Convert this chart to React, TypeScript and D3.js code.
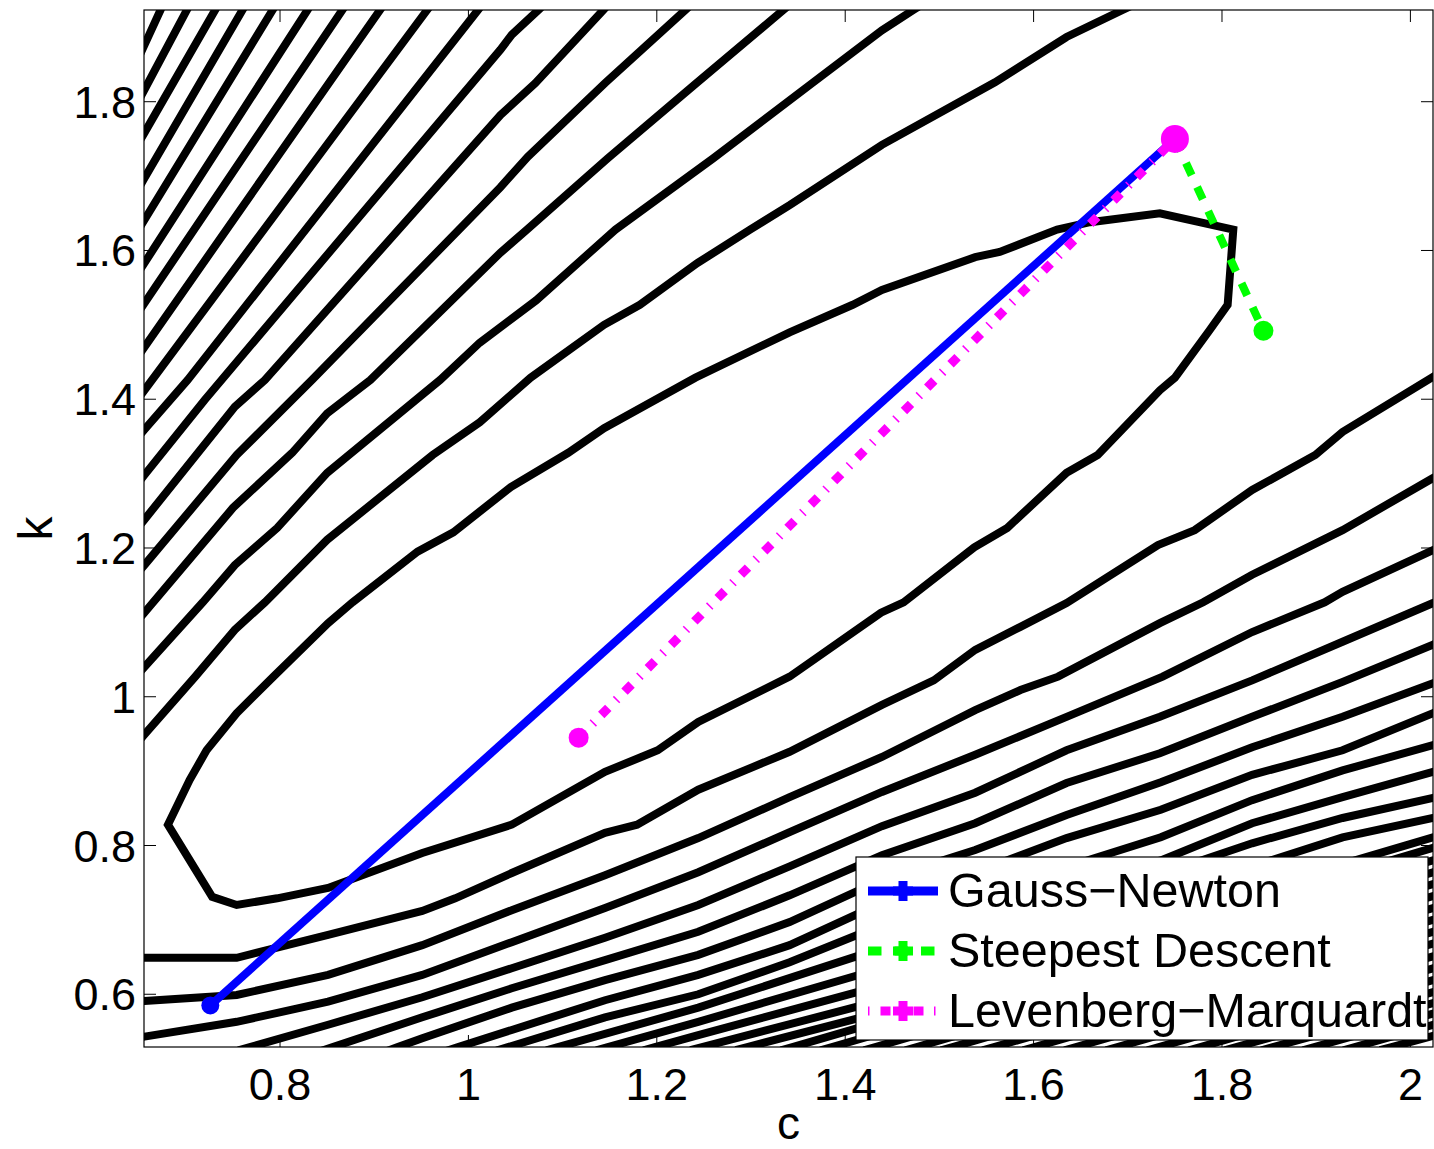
import React from "react";
import * as d3 from "d3";

type Pt = [number, number];

// ---- axes ----
const xDomain: [number, number] = [0.6556, 2.024];
const yDomain: [number, number] = [0.5291, 1.9233];
const xTicks = [0.8, 1, 1.2, 1.4, 1.6, 1.8, 2];
const yTicks = [0.6, 0.8, 1, 1.2, 1.4, 1.6, 1.8];
const xTickLabels = ["0.8", "1", "1.2", "1.4", "1.6", "1.8", "2"];
const yTickLabels = ["0.6", "0.8", "1", "1.2", "1.4", "1.6", "1.8"];
const xLabel = "c";
const yLabel = "k";

// ---- contour lines (c, k) ----
const upperLeftContours: Pt[][] = [
  [[0.673, 1.923], [0.656, 1.876]],
  [[0.701, 1.923], [0.656, 1.816]],
  [[0.731, 1.923], [0.656, 1.758]],
  [[0.760, 1.923], [0.656, 1.697]],
  [[0.792, 1.923], [0.656, 1.641]],
  [[0.829, 1.923], [0.656, 1.583]],
  [[0.866, 1.923], [0.656, 1.529]],
  [[0.906, 1.923], [0.656, 1.470]],
  [[0.956, 1.923], [0.656, 1.412]],
  [[1.010, 1.923], [0.702, 1.426], [0.656, 1.359]],
  [[1.074, 1.923], [1.046, 1.890], [1.034, 1.870], [0.720, 1.399], [0.656, 1.298]],
  [[1.143, 1.923], [1.071, 1.825], [1.034, 1.782], [0.784, 1.426], [0.752, 1.390], [0.656, 1.238]],
  [[1.230, 1.923], [1.145, 1.825], [1.063, 1.726], [1.034, 1.685], [0.834, 1.426], [0.754, 1.325], [0.656, 1.177]],
  [[1.334, 1.923], [1.243, 1.826], [1.148, 1.724], [1.062, 1.628], [1.034, 1.597], [0.896, 1.426], [0.850, 1.381], [0.813, 1.328], [0.750, 1.254], [0.656, 1.113]],
  [[1.472, 1.923], [1.439, 1.896], [1.366, 1.826], [1.260, 1.724], [1.156, 1.628], [1.072, 1.533], [1.012, 1.476], [0.970, 1.426], [0.850, 1.301], [0.797, 1.227], [0.752, 1.177], [0.718, 1.127], [0.656, 1.040]],
  [[1.694, 1.923], [1.635, 1.887], [1.559, 1.826], [1.439, 1.742], [1.341, 1.661], [1.299, 1.628], [1.243, 1.583], [1.182, 1.527], [1.144, 1.500], [1.066, 1.429], [1.012, 1.369], [0.962, 1.325], [0.850, 1.211], [0.784, 1.127], [0.752, 1.090], [0.710, 1.027], [0.656, 0.949]],
];

const innerContour: Pt[] = [
  [0.681, 0.828], [0.704, 0.888], [0.722, 0.928], [0.754, 0.978], [0.793, 1.027], [0.851, 1.099],
  [0.877, 1.127], [0.946, 1.195], [0.984, 1.221], [1.045, 1.282], [1.106, 1.328], [1.144, 1.361],
  [1.241, 1.429], [1.341, 1.490], [1.408, 1.527], [1.439, 1.547], [1.538, 1.591], [1.564, 1.598],
  [1.625, 1.628], [1.660, 1.638], [1.734, 1.650], [1.812, 1.628], [1.806, 1.527], [1.787, 1.493],
  [1.750, 1.429], [1.734, 1.412], [1.668, 1.325], [1.635, 1.301], [1.572, 1.227], [1.537, 1.201],
  [1.462, 1.127], [1.438, 1.113], [1.341, 1.027], [1.244, 0.966], [1.201, 0.928], [1.145, 0.899],
  [1.046, 0.828], [0.951, 0.790], [0.851, 0.743], [0.797, 0.729], [0.754, 0.720], [0.728, 0.731],
];

const lowerRightContours: Pt[][] = [
  [[0.656, 0.649], [0.754, 0.649], [0.851, 0.680], [0.951, 0.712], [0.986, 0.729], [1.046, 0.763], [1.145, 0.817], [1.179, 0.828], [1.244, 0.875], [1.341, 0.926], [1.439, 0.989], [1.494, 1.022], [1.538, 1.063], [1.586, 1.094], [1.635, 1.126], [1.732, 1.204], [1.771, 1.224], [1.832, 1.278], [1.899, 1.325], [1.928, 1.356], [2.024, 1.430]],
  [[0.656, 0.591], [0.754, 0.599], [0.851, 0.626], [0.951, 0.666], [1.046, 0.713], [1.145, 0.760], [1.244, 0.810], [1.341, 0.865], [1.439, 0.919], [1.513, 0.966], [1.538, 0.982], [1.586, 1.009], [1.626, 1.027], [1.734, 1.099], [1.780, 1.127], [1.832, 1.164], [1.928, 1.224], [2.024, 1.294]],
  [[0.656, 0.543], [0.754, 0.563], [0.851, 0.590], [0.951, 0.626], [1.046, 0.670], [1.145, 0.716], [1.244, 0.764], [1.341, 0.818], [1.439, 0.872], [1.538, 0.922], [1.635, 0.973], [1.737, 1.027], [1.832, 1.087], [1.909, 1.127], [1.928, 1.141], [2.024, 1.197]],
  [[0.768, 0.529], [0.851, 0.559], [0.951, 0.596], [1.046, 0.635], [1.145, 0.676], [1.244, 0.720], [1.341, 0.772], [1.439, 0.826], [1.538, 0.871], [1.635, 0.928], [1.734, 0.973], [1.832, 1.022], [1.928, 1.074], [2.024, 1.126]],
  [[0.856, 0.529], [0.951, 0.569], [1.046, 0.608], [1.145, 0.646], [1.244, 0.684], [1.341, 0.733], [1.439, 0.787], [1.538, 0.830], [1.635, 0.884], [1.734, 0.924], [1.832, 0.973], [1.928, 1.020], [2.024, 1.070]],
  [[0.925, 0.529], [0.951, 0.541], [1.046, 0.582], [1.145, 0.619], [1.244, 0.653], [1.341, 0.697], [1.439, 0.754], [1.538, 0.794], [1.635, 0.841], [1.735, 0.885], [1.832, 0.932], [1.928, 0.973], [2.024, 1.018]],
  [[0.989, 0.529], [1.046, 0.552], [1.145, 0.592], [1.244, 0.626], [1.341, 0.666], [1.439, 0.723], [1.538, 0.764], [1.635, 0.810], [1.735, 0.848], [1.832, 0.895], [1.928, 0.928], [2.024, 0.978]],
  [[1.042, 0.529], [1.145, 0.569], [1.244, 0.600], [1.341, 0.643], [1.439, 0.693], [1.735, 0.811], [1.832, 0.861], [1.928, 0.901], [2.024, 0.935]],
  [[1.095, 0.529], [1.244, 0.582], [1.439, 0.662], [1.735, 0.780], [1.832, 0.830], [1.928, 0.865], [2.024, 0.899]],
  [[1.148, 0.529], [1.244, 0.563], [1.439, 0.635], [1.832, 0.803], [1.928, 0.837], [2.024, 0.864]],
  [[1.198, 0.529], [1.244, 0.545], [1.439, 0.612], [1.928, 0.811], [2.024, 0.837]],
  [[1.248, 0.529], [1.439, 0.592], [2.024, 0.811]],
  [[1.296, 0.529], [1.439, 0.576], [2.024, 0.797]],
  [[1.344, 0.529], [2.024, 0.780]],
  [[1.386, 0.529], [2.024, 0.764]],
  [[1.432, 0.529], [2.024, 0.748]],
  [[1.476, 0.529], [2.024, 0.732]],
  [[1.514, 0.529], [2.024, 0.716]],
  [[1.558, 0.529], [2.024, 0.700]],
  [[1.601, 0.529], [2.024, 0.684]],
  [[1.645, 0.529], [2.024, 0.668]],
  [[1.689, 0.529], [2.024, 0.651]],
  [[1.733, 0.529], [2.024, 0.635]],
  [[1.777, 0.529], [2.024, 0.619]],
  [[1.815, 0.529], [2.024, 0.603]],
  [[1.854, 0.529], [2.024, 0.588]],
  [[1.898, 0.529], [2.024, 0.574]],
  [[1.941, 0.529], [2.024, 0.559]],
  [[1.980, 0.529], [2.024, 0.544]],
];

// ---- iteration paths ----
const startPoint: Pt = [1.75, 1.75];
const gaussNewtonPath: Pt[] = [[1.75, 1.75], [0.726, 0.585]];
const steepestDescentPath: Pt[] = [[1.75, 1.75], [1.844, 1.492]];
const levenbergMarquardtPath: Pt[] = [[1.75, 1.75], [1.117, 0.945]];
const seriesNames = ["Gauss\u2212Newton", "Steepest Descent", "Levenberg\u2212Marquardt"];
const seriesColors = ["#0000ff", "#00ff00", "#ff00ff"];

const FONT = "'Liberation Sans', Arial, Helvetica, sans-serif";

function extendEnds(pts: [number, number][], len: number): [number, number][] {
  const n = pts.length;
  const ext = (a: [number, number], b: [number, number]): [number, number] => {
    const dx = a[0] - b[0];
    const dy = a[1] - b[1];
    const L = Math.hypot(dx, dy) || 1;
    return [a[0] + (dx / L) * len, a[1] + (dy / L) * len];
  };
  return [ext(pts[0], pts[1]), ...pts, ext(pts[n - 1], pts[n - 2])];
}

export default function App() {
  const W = 1434;
  const H = 1149;
  const L = 144;
  const R = 1433;
  const T = 10;
  const B = 1047;
  const x = d3.scaleLinear().domain(xDomain).range([L, R]);
  const y = d3.scaleLinear().domain(yDomain).range([B, T]);
  const toPx = (pts: Pt[]) => pts.map((p) => [x(p[0]), y(p[1])] as [number, number]);
  const openLine = d3.line();
  const closedLine = d3.line().curve(d3.curveLinearClosed);

  const contourStyle = {
    fill: "none",
    stroke: "#000",
    strokeWidth: 8,
    strokeLinejoin: "miter" as const,
    strokeMiterlimit: 3,
    strokeLinecap: "butt" as const,
  };

  const paths = [gaussNewtonPath, steepestDescentPath, levenbergMarquardtPath];
  const dashes = ["none", "13.5 13", "10 10.5 1.5 11"];
  const dashOffsets = [0, 0, 22];
  const pathWidths = [8, 8, 9];
  const endRadius = [9, 10, 10];

  const legendX = 856;
  const legendY = 857;
  const legendW = 572;
  const legendH = 183;
  const rowY = [891, 951, 1011];
  const legendDashOffsets = [0, 0, 20.5];

  return (
    <svg
      width={W}
      height={H}
      viewBox={`0 0 ${W} ${H}`}
      style={{ position: "absolute", left: 0, top: 0, background: "#fff" }}
      fontFamily={FONT}
    >
      <defs>
        <clipPath id="plotClip">
          <rect x={L} y={T} width={R - L} height={B - T} />
        </clipPath>
      </defs>
      <rect x={0} y={0} width={W} height={H} fill="#fff" />

      {/* ticks (drawn beneath data) */}
      <g stroke="#000" strokeWidth={1} fill="none">
        {xTicks.map((t, i) => (
          <g key={"xt" + i}>
            <line x1={x(t)} x2={x(t)} y1={B} y2={B - 12} />
            <line x1={x(t)} x2={x(t)} y1={T} y2={T + 12} />
          </g>
        ))}
        {yTicks.map((t, i) => (
          <g key={"yt" + i}>
            <line x1={L} x2={L + 12} y1={y(t)} y2={y(t)} />
            <line x1={R} x2={R - 12} y1={y(t)} y2={y(t)} />
          </g>
        ))}
      </g>

      {/* contours */}
      <g clipPath="url(#plotClip)">
        {upperLeftContours.map((c, i) => (
          <path key={"ul" + i} d={openLine(extendEnds(toPx(c), 12)) || ""} {...contourStyle} />
        ))}
        <path d={closedLine(toPx(innerContour)) || ""} {...contourStyle} />
        {lowerRightContours.map((c, i) => (
          <path key={"lr" + i} d={openLine(extendEnds(toPx(c), 12)) || ""} {...contourStyle} />
        ))}

        {/* iteration paths */}
        {paths.map((p, i) => (
          <path
            key={"path" + i}
            d={openLine(toPx(p)) || ""}
            fill="none"
            stroke={seriesColors[i]}
            strokeWidth={pathWidths[i]}
            strokeDasharray={dashes[i]}
            strokeDashoffset={dashOffsets[i]}
            strokeLinecap="butt"
          />
        ))}
        {paths.map((p, i) => {
          const e = p[p.length - 1];
          return <circle key={"end" + i} cx={x(e[0])} cy={y(e[1])} r={endRadius[i]} fill={seriesColors[i]} />;
        })}
        <circle cx={x(startPoint[0])} cy={y(startPoint[1])} r={14} fill="#ff00ff" />
      </g>

      {/* box */}
      <rect x={L} y={T} width={R - L} height={B - T} fill="none" stroke="#000" strokeWidth={1.2} />

      {/* tick labels */}
      <g fontSize={45} fill="#000">
        {xTicks.map((t, i) => (
          <text key={"xl" + i} x={x(t)} y={1100} textAnchor="middle">
            {xTickLabels[i]}
          </text>
        ))}
        {yTicks.map((t, i) => (
          <text key={"yl" + i} x={136} y={y(t) + 16} textAnchor="end">
            {yTickLabels[i]}
          </text>
        ))}
      </g>

      {/* axis labels */}
      <text x={(L + R) / 2} y={1139} textAnchor="middle" fontSize={46} fill="#000">
        {xLabel}
      </text>
      <text transform={`translate(52, ${(T + B) / 2}) rotate(-90)`} textAnchor="middle" fontSize={48} fill="#000">
        {yLabel}
      </text>

      {/* legend */}
      <g>
        <rect x={legendX} y={legendY} width={legendW} height={legendH} fill="#fff" stroke="#000" strokeWidth={1.2} />
        {seriesNames.map((name, i) => (
          <g key={"lg" + i}>
            <line
              x1={868}
              x2={938}
              y1={rowY[i]}
              y2={rowY[i]}
              stroke={seriesColors[i]}
              strokeWidth={9}
              strokeDasharray={dashes[i]}
              strokeDashoffset={legendDashOffsets[i]}
            />
            <path
              d={`M${903 - 10},${rowY[i]}H${903 + 10}M${903},${rowY[i] - 10}V${rowY[i] + 10}`}
              stroke={seriesColors[i]}
              strokeWidth={9}
              fill="none"
            />
            <text x={948} y={rowY[i] + 16} fontSize={48.5} fill="#000">
              {name}
            </text>
          </g>
        ))}
      </g>
    </svg>
  );
}
